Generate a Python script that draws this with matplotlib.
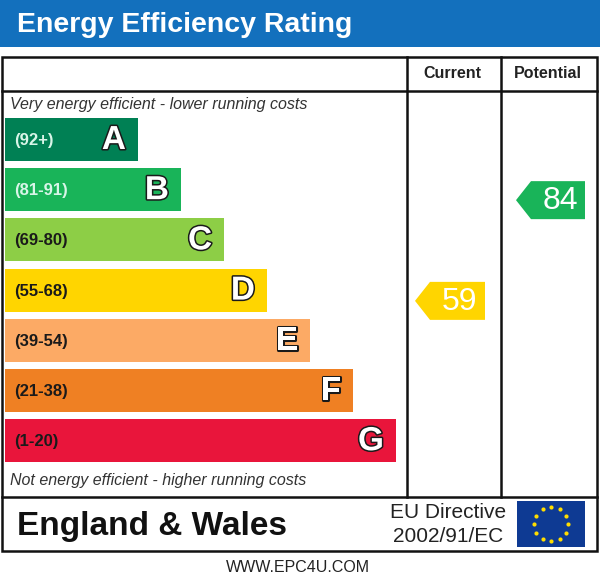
import numpy as np
import matplotlib.pyplot as plt
from matplotlib.patches import Rectangle, Polygon
import matplotlib.patheffects as pe

plt.rcParams['font.family'] = ['Liberation Sans', 'DejaVu Sans']

# bands, their score ranges and colours
bands = ["A", "B", "C", "D", "E", "F", "G"]
ranges = ["(92+)", "(81-91)", "(69-80)", "(55-68)", "(39-54)", "(21-38)", "(1-20)"]
band_low = [92, 81, 69, 55, 39, 21, 1]
band_high = [100, 91, 80, 68, 54, 38, 20]
colors = ["#008054", "#19b459", "#8dce46", "#ffd500", "#fcaa65", "#ef8023", "#e9153b"]
range_text = ["#d8f5e8", "#d8f5e8", "#1a1a1a", "#1a1a1a", "#1a1a1a", "#1a1a1a", "#1a1a1a"]

current = 59
potential = 84

fig = plt.figure(figsize=(6, 5.82), dpi=100)
ax = fig.add_axes([0, 0, 1, 1])
ax.set_xlim(0, 600)
ax.set_ylim(582, 0)
ax.axis("off")

# header
ax.add_patch(Rectangle((0, 0), 600, 47, color="#1370bd", lw=0))
ax.text(17, 25, "Energy Efficiency Rating", color="white", fontsize=20.5,
        fontweight="bold", va="center", ha="left")

# main frame
lw = 1.8
ax.add_patch(Rectangle((2, 57), 595, 494, fill=False, ec="#111111", lw=lw))
ax.plot([2, 597], [91, 91], color="#111111", lw=lw)
ax.plot([2, 597], [497, 497], color="#111111", lw=lw)
ax.plot([407, 407], [57, 497], color="#111111", lw=lw)
ax.plot([501, 501], [57, 497], color="#111111", lw=lw)
ax.text(452, 74, "Current", fontsize=11.5, fontweight="bold", ha="center", va="center", color="#222222")
ax.text(548, 74, "Potential", fontsize=11.5, fontweight="bold", ha="center", va="center", color="#222222")

ax.text(10, 105, "Very energy efficient - lower running costs", fontsize=11.5,
        style="italic", va="center", color="#333333")
ax.text(10, 480, "Not energy efficient - higher running costs", fontsize=11.5,
        style="italic", va="center", color="#333333")

top0, pitch, bh = 118, 50.2, 43
x0, w0, dw = 5, 133, 43
outline = [pe.Stroke(linewidth=2.2, foreground="#1a1a1a"), pe.Normal()]
for i, b in enumerate(bands):
    y = top0 + i * pitch
    w = w0 + i * dw
    ax.add_patch(Rectangle((x0, y), w, bh, color=colors[i], lw=0))
    ax.text(x0 + 9, y + bh / 2 + 1, ranges[i], fontsize=12, fontweight="bold",
            color=range_text[i], va="center", ha="left")
    ax.text(x0 + w - 12, y + bh / 2 + 1, b, fontsize=24, fontweight="bold",
            color="white", va="center", ha="right", path_effects=outline)


def band_of(score):
    for i in range(len(bands)):
        if band_low[i] <= score <= band_high[i]:
            return i
    return len(bands) - 1


def arrow(score, xl, xr):
    i = band_of(score)
    frac = (band_high[i] - score) / (band_high[i] - band_low[i] + 1)
    yc = top0 + i * pitch + frac * pitch
    h = 38
    pts = [(xl, yc), (xl + 15, yc - h / 2), (xr, yc - h / 2), (xr, yc + h / 2), (xl + 15, yc + h / 2)]
    ax.add_patch(Polygon(pts, closed=True, color=colors[i], lw=0))
    ax.text((xl + 15 + xr) / 2 + 2, yc + 1, str(score), fontsize=23, color="white",
            ha="center", va="center")


arrow(current, 415, 485)
arrow(potential, 516, 585)

# footer
ax.text(17, 527, "England & Wales", fontsize=24, fontweight="bold", va="center", color="#111111")
ax.text(448, 512, "EU Directive", fontsize=15, va="center", ha="center", color="#222222")
ax.text(448, 537, "2002/91/EC", fontsize=15, va="center", ha="center", color="#222222")
ax.add_patch(Rectangle((517, 501), 68, 46, color="#0e3a93", lw=0))
ang = np.linspace(0, 2 * np.pi, 13)[:-1]
ax.scatter(551 + 17 * np.cos(ang), 524 + 17 * np.sin(ang), s=9, color="#ffdd00", marker="o",
           lw=0, zorder=5)

ax.text(298, 568, "WWW.EPC4U.COM", fontsize=11.5, ha="center", va="center", color="#222222")

fig.savefig("out.png", dpi=100)
